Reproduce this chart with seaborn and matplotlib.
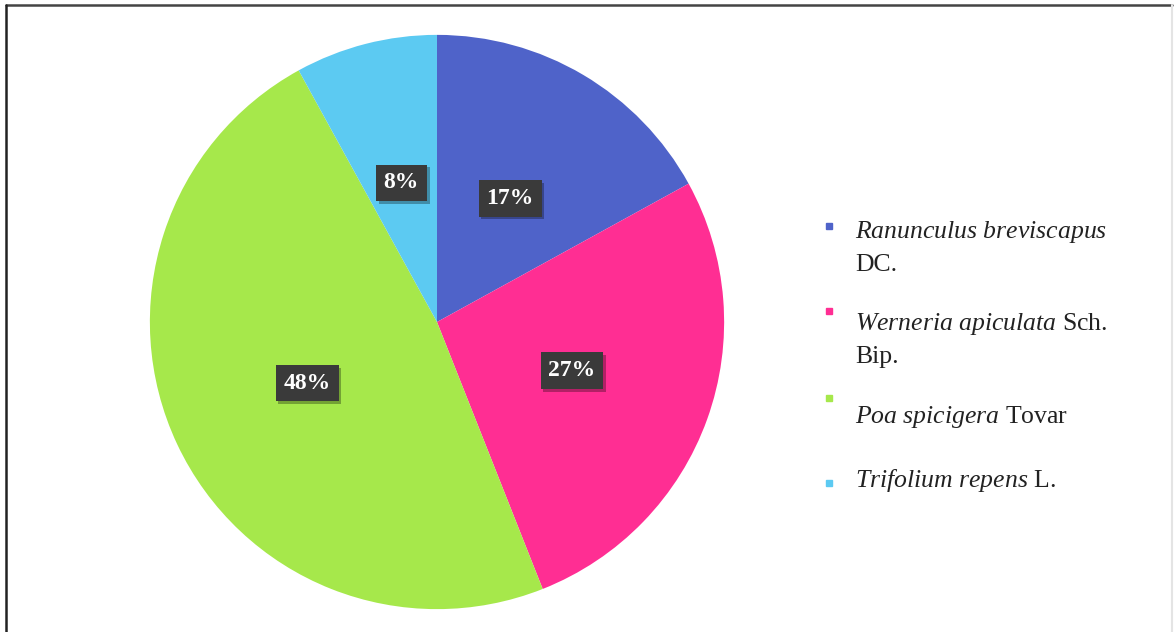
import matplotlib
matplotlib.use("Agg")
import matplotlib.pyplot as plt
import matplotlib.patheffects as pe
from matplotlib.lines import Line2D
import seaborn as sns

# Species share of cover (%)
species = ["Ranunculus breviscapus", "Werneria apiculata", "Poa spicigera", "Trifolium repens"]
authors = ["DC.", "Sch. Bip.", "Tovar", "L."]
shares = [17, 27, 48, 8]
colors = ["#4f63c9", "#ff2e93", "#a6e84b", "#5ccaf2"]

sns.set_theme(style="white")
plt.rcParams["font.family"] = ["Liberation Serif", "DejaVu Serif"]
plt.rcParams["mathtext.fontset"] = "custom"
plt.rcParams["mathtext.it"] = "Liberation Serif:italic"
plt.rcParams["mathtext.rm"] = "Liberation Serif"

W, H = 1175, 632
fig = plt.figure(figsize=(W / 100, H / 100), dpi=100)
fig.patch.set_facecolor("white")

# Pie axes: centre (437, 322) px, radius ~287 px
cx, cy, r = 437, 322, 290
ax = fig.add_axes([(cx - r) / W, (H - cy - r) / H, 2 * r / W, 2 * r / H])
wedges, _, autotexts = ax.pie(
    shares,
    colors=colors,
    startangle=90,
    counterclock=False,
    pctdistance=0.5,
    autopct=lambda p: f"{p:.0f}%",
    wedgeprops=dict(linewidth=0),
    textprops=dict(color="white", fontsize=17, fontweight="bold"),
)
ax.set_xlim(-1.01, 1.01)
ax.set_ylim(-1.01, 1.01)
ax.set_aspect("equal")
ax.axis("off")

for t in autotexts:
    t.set_bbox(dict(boxstyle="square,pad=0.33", fc="#3a3a3a", ec="none"))
    t.get_bbox_patch().set_path_effects(
        [pe.SimplePatchShadow(offset=(2, -2), shadow_rgbFace="black", alpha=0.3), pe.Normal()]
    )

# Legend drawn in figure pixels
def fx(x):
    return x / W

def fy(y):
    return 1 - y / H

marker_y = [226, 311, 398, 483]
first_base = [238, 330, 423, 487]
second_base = [271, 363, None, None]
first_lines = [
    r"$\it{Ranunculus\ breviscapus}$",
    r"$\it{Werneria\ apiculata}$ Sch.",
    r"$\it{Poa\ spicigera}$ Tovar",
    r"$\it{Trifolium\ repens}$ L.",
]
second_lines = ["DC.", "Bip.", None, None]

for i in range(len(species)):
    fig.add_artist(Line2D([fx(829)], [fy(marker_y[i])], marker="s", markersize=5,
                          color=colors[i], linestyle="none", transform=fig.transFigure))
    fig.text(fx(855), fy(first_base[i]), first_lines[i], fontsize=18.5,
             color="#222222", va="baseline", ha="left")
    if second_lines[i]:
        fig.text(fx(855), fy(second_base[i]), second_lines[i], fontsize=18.5,
                 color="#222222", va="baseline", ha="left")

# Outer frame
fig.add_artist(Line2D([fx(6), fx(1172)], [fy(5), fy(5)], color="#444444", linewidth=1.8,
                      transform=fig.transFigure))
fig.add_artist(Line2D([fx(6), fx(6)], [fy(5), 0], color="#222222", linewidth=1.8,
                      transform=fig.transFigure))
fig.add_artist(Line2D([fx(1172), fx(1172)], [fy(5), 0], color="#e4e4e4", linewidth=1.5,
                      transform=fig.transFigure))

fig.savefig("out.png", dpi=100, facecolor="white")
